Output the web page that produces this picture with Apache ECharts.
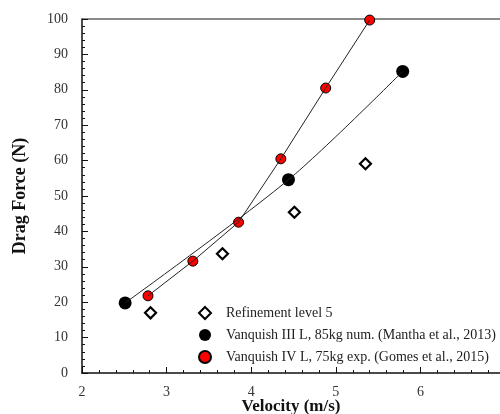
<!DOCTYPE html>
<html>
<head>
<meta charset="utf-8">
<script src="https://cdn.jsdelivr.net/npm/echarts@6/dist/echarts.min.js"></script>
<style>
html, body { margin: 0; padding: 0; background: #fff; }
#chart { width: 500px; height: 414px; }
</style>
</head>
<body>
<div id="chart"></div>
<script>
// values
var refineVel = [2.81, 3.66, 4.51, 5.35];
var refineDrag = [17.0, 33.7, 45.4, 59.1];
var manthaVel = [2.51, 4.44, 5.79];
var manthaDrag = [19.8, 54.6, 85.2];
var gomesVel = [2.78, 3.31, 3.85, 4.35, 4.88, 5.40];
var gomesDrag = [21.8, 31.6, 42.6, 60.5, 80.5, 99.7];
var seriesNames = [
	'Refinement level 5',
	'Vanquish III L, 85kg num. (Mantha et al., 2013)',
	'Vanquish IV L, 75kg exp. (Gomes et al., 2015)'
];

function pairs(xs, ys){
	var out = [];
	for(var i = 0; i < xs.length; i++){
		out.push([xs[i], ys[i]]);
	}
	return out;
}

var font = 'Liberation Serif';
var chart = echarts.init(document.getElementById('chart'));

// the figure is cropped on the right, so the x range stops short of 7
var option = {
	animation: false,
	textStyle: { fontFamily: font },
	grid: { left: 82, right: 0, top: 19, bottom: 41, outerBoundsMode: 'none' },
	legend: {
		orient: 'vertical',
		left: 193, top: 300,
		itemWidth: 12, itemHeight: 12, itemGap: 6,
		textStyle: { fontFamily: font, fontSize: 14, lineHeight: 16, color: '#222', padding: [0, 0, 0, 10] },
		data: seriesNames
	},
	xAxis: [{
		type: 'value',
		min: 2, max: 6.94, interval: 1,
		name: 'Velocity (m/s)',
		nameLocation: 'middle',
		nameGap: 25,
		nameMoveOverlap: false,
		nameTextStyle: { fontFamily: font, fontSize: 17, fontWeight: 'bold', color: '#111' },
		axisLine: { onZero: false, lineStyle: { color: '#111', width: 1.5 } },
		axisTick: { inside: true, length: 6, lineStyle: { color: '#111' } },
		minorTick: { show: true, splitNumber: 5, length: 3, lineStyle: { color: '#111' } },
		splitLine: { show: false },
		axisLabel: { fontFamily: font, fontSize: 14, color: '#333', margin: 12, showMaxLabel: false }
	}, {
		type: 'value',
		position: 'top',
		min: 2, max: 6.94,
		axisLine: { onZero: false, lineStyle: { color: '#666', width: 1.5 } },
		axisTick: { show: false },
		axisLabel: { show: false },
		splitLine: { show: false }
	}],
	yAxis: {
		type: 'value',
		min: 0, max: 100, interval: 10,
		name: 'Drag Force (N)',
		nameLocation: 'middle',
		nameGap: 53,
		nameRotate: 90,
		nameTextStyle: { fontFamily: font, fontSize: 18, fontWeight: 'bold', color: '#111' },
		axisLine: { onZero: false, lineStyle: { color: '#111', width: 1.5 } },
		axisTick: { inside: true, length: 6, lineStyle: { color: '#111' } },
		minorTick: { show: true, splitNumber: 5, length: 3, lineStyle: { color: '#111' } },
		splitLine: { show: false },
		axisLabel: { fontFamily: font, fontSize: 14, color: '#333', margin: 14 }
	},
	series: [
		{
			type: 'line',
			data: pairs(manthaVel, manthaDrag),
			showSymbol: false,
			smooth: 0.3,
			lineStyle: { color: '#222', width: 1 },
			silent: true
		},
		{
			type: 'line',
			data: pairs(gomesVel, gomesDrag),
			showSymbol: false,
			lineStyle: { color: '#222', width: 1 },
			silent: true
		},
		{
			name: seriesNames[0],
			type: 'scatter',
			data: pairs(refineVel, refineDrag),
			symbol: 'diamond',
			symbolSize: 11,
			itemStyle: { color: '#fff', borderColor: '#000', borderWidth: 2.2, opacity: 1 }
		},
		{
			name: seriesNames[1],
			type: 'scatter',
			data: pairs(manthaVel, manthaDrag),
			symbol: 'circle',
			symbolSize: 13,
			itemStyle: { color: '#000', borderColor: '#000', borderWidth: 0, opacity: 1 }
		},
		{
			name: seriesNames[2],
			type: 'scatter',
			data: pairs(gomesVel, gomesDrag),
			symbol: 'circle',
			symbolSize: 10,
			itemStyle: { color: '#f00', borderColor: '#000', borderWidth: 1, opacity: 1 }
		}
	]
};

chart.setOption(option);
</script>
</body>
</html>
